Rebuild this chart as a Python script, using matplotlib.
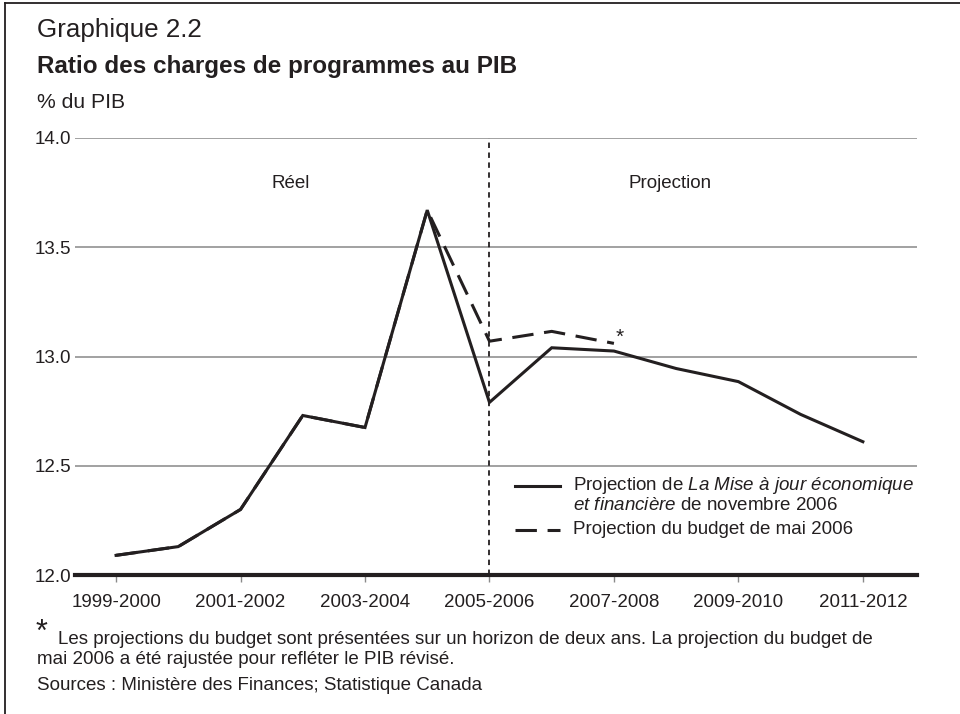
import matplotlib.pyplot as plt
from matplotlib.lines import Line2D

plt.rcParams['font.family'] = ['Liberation Sans', 'DejaVu Sans']
plt.rcParams['mathtext.fontset'] = 'custom'
plt.rcParams['mathtext.rm'] = 'Liberation Sans'
plt.rcParams['mathtext.it'] = 'Liberation Sans:italic'

# Data
years = ['1999-2000', '2000-2001', '2001-2002', '2002-2003', '2003-2004',
         '2004-2005', '2005-2006', '2006-2007', '2007-2008', '2008-2009',
         '2009-2010', '2010-2011', '2011-2012']
mise_a_jour = [12.09, 12.13, 12.30, 12.73, 12.675, 13.67, 12.79, 13.04,
               13.025, 12.945, 12.885, 12.735, 12.61]
budget_mai = [12.09, 12.13, 12.30, 12.73, 12.675, 13.67, 13.07, 13.115, 13.06]
yticks = [12.0, 12.5, 13.0, 13.5, 14.0]

TXT = '#231f20'
FS = 13.5
W, H = 960, 714

def fx(px):
    return px / W

def fy(py):
    return 1 - py / H

fig = plt.figure(figsize=(9.6, 7.14), dpi=100)
ax = fig.add_axes([fx(75), fy(575), fx(917 - 75), (575 - 138) / H])

x = list(range(len(years)))
ax.plot(x[:len(budget_mai)], budget_mai, color=TXT, lw=2.2,
        dashes=(7, 3.5), solid_joinstyle='miter', zorder=3)
ax.plot(x, mise_a_jour, color=TXT, lw=2.2, solid_joinstyle='miter', zorder=4)

ax.set_xlim(-0.66, 12.87)
ax.set_ylim(12.0, 14.0)

for v in yticks[1:]:
    ax.axhline(v, color='#9a9a9a', lw=1.3, zorder=1)

ax.axvline(6, color=TXT, lw=1.3, dashes=(3, 2.5), zorder=2)

ax.set_yticks(yticks)
ax.set_yticklabels([f'{v:.1f}' for v in yticks], color=TXT, fontsize=FS)
ax.tick_params(axis='y', length=0, pad=3)
ax.set_xticks(x[::2])
ax.set_xticklabels(years[::2], color=TXT, fontsize=FS)
ax.tick_params(axis='x', length=5, width=1, color='#8a8a8a', pad=9)

for s in ['top', 'right', 'left']:
    ax.spines[s].set_visible(False)
ax.spines['bottom'].set_linewidth(3.0)
ax.spines['bottom'].set_color(TXT)
ax.spines['bottom'].set_zorder(5)

ax.text(2.8, 13.79, 'Réel', ha='center', va='center', fontsize=FS, color=TXT)
ax.text(8.9, 13.79, 'Projection', ha='center', va='center', fontsize=FS, color=TXT)
ax.text(8.1, 13.09, '*', ha='center', va='center', fontsize=15, color=TXT)

# legend drawn by hand
fig.add_artist(Line2D([fx(515), fx(560)], [fy(486), fy(486)], color=TXT, lw=2.2))
fig.add_artist(Line2D([fx(515), fx(560)], [fy(530), fy(530)], color=TXT, lw=2.2,
                      dashes=(7, 3.5)))
fig.text(fx(573), fy(486),
         r'Projection de $\mathit{La\ Mise\ à\ jour\ économique}$',
         va='center', fontsize=FS, color=TXT)
fig.text(fx(573), fy(506),
         r'$\mathit{et\ financière}$ de novembre 2006',
         va='center', fontsize=FS, color=TXT)
fig.text(fx(573), fy(530), 'Projection du budget de mai 2006',
         va='center', fontsize=FS, color=TXT)

# titles
fig.text(fx(37), fy(30), 'Graphique 2.2', va='center', fontsize=18.7, color=TXT)
fig.text(fx(37), fy(66), 'Ratio des charges de programmes au PIB', va='center',
         fontsize=17.5, fontweight='bold', color=TXT)
fig.text(fx(37), fy(103), '% du PIB', va='center', fontsize=15.2, color=TXT)

# footnotes
fig.text(fx(36), fy(633), '*', va='center', fontsize=22, color=TXT)
fig.text(fx(58), fy(640),
         'Les projections du budget sont présentées sur un horizon de deux ans. '
         'La projection du budget de', va='center', fontsize=FS, color=TXT)
fig.text(fx(37), fy(660), 'mai 2006 a été rajustée pour refléter le PIB révisé.',
         va='center', fontsize=FS, color=TXT)
fig.text(fx(37), fy(686), 'Sources : Ministère des Finances; Statistique Canada',
         va='center', fontsize=FS, color=TXT)

# box frame (top and left visible)
fig.add_artist(Line2D([fx(4.5), 1], [fy(3), fy(3)], color=TXT, lw=1.3))
fig.add_artist(Line2D([fx(4.5), fx(4.5)], [fy(3), 0], color=TXT, lw=1.3))

fig.savefig('out.png', dpi=100)
